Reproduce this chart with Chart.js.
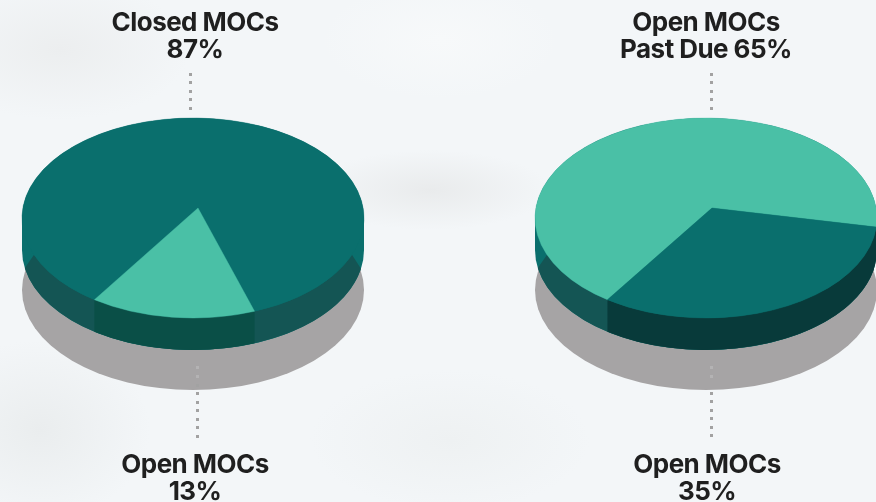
<!DOCTYPE html>
<html><head><meta charset="utf-8">
<script src="https://cdn.jsdelivr.net/npm/chart.js@4"></script>
<style>
html,body{margin:0;padding:0;width:876px;height:502px;overflow:hidden}
body{position:relative;background-color:#f3f6f8;background-image:
 radial-gradient(ellipse 130px 70px at 60px 50px,#eceeef 0,rgba(236,238,239,0) 100%),
 radial-gradient(ellipse 120px 40px at 430px 190px,#e9ebec 0,rgba(233,235,236,0) 100%),
 radial-gradient(ellipse 110px 90px at 40px 430px,#eaedee 0,rgba(234,237,238,0) 100%),
 radial-gradient(ellipse 140px 70px at 450px 440px,#eef1f2 0,rgba(238,241,242,0) 100%),
 radial-gradient(ellipse 120px 60px at 440px 40px,#f7f9fa 0,rgba(247,249,250,0) 100%)}
canvas{position:absolute;top:0}
.lab{position:absolute;width:320px;text-align:center;font:700 26px/26.5px Inter,sans-serif;color:#1f1f1f;letter-spacing:-0.55px;white-space:nowrap}
.dots{position:absolute;width:3px;background-image:repeating-linear-gradient(to bottom,#a2a2a2 0,#a2a2a2 3px,transparent 3px,transparent 8.5px)}
.dots.soft{background-image:repeating-linear-gradient(to bottom,#b4b3b4 0,#b4b3b4 3px,transparent 3px,transparent 8.5px)}
</style></head>
<body>
<canvas id="pieA" width="438" height="502" style="left:0;width:438px;height:502px"></canvas>
<canvas id="pieB" width="450" height="502" style="left:438px;width:450px;height:502px"></canvas>

<div class="dots" style="left:189px;top:73px;height:38px"></div>
<div class="dots soft" style="left:196px;top:366px;height:17px"></div>
<div class="dots" style="left:196px;top:383.5px;height:55px"></div>
<div class="dots" style="left:710px;top:73px;height:38px"></div>
<div class="dots soft" style="left:710px;top:366px;height:17px"></div>
<div class="dots" style="left:710px;top:392px;height:50px"></div>

<div class="lab" style="left:35px;top:9px">Closed MOCs<br>87%</div>
<div class="lab" style="left:546px;top:9px">Open MOCs<br>Past Due 65%</div>
<div class="lab" style="left:35px;top:451px">Open MOCs<br>13%</div>
<div class="lab" style="left:547px;top:451px">Open MOCs<br>35%</div>

<script>
const categoriesA = ['Closed MOCs', 'Open MOCs'];
const valuesA = [87, 13];
const categoriesB = ['Open MOCs Past Due', 'Open MOCs'];
const valuesB = [65, 35];

const TEAL = '#0a6f6d', MINT = '#4ac0a6', SHADOW = '#a6a4a5', BAND = '#145554';
const D = Math.PI / 180;

// Draws the library's arcs as a tilted, extruded disc.
const disc3d = {
  id: 'disc3d',
  beforeDatasetsDraw(chart) {
    const o = chart.options.plugins.disc3d;
    const arcs = chart.getDatasetMeta(0).data;
    const ctx = chart.ctx;
    const cx = arcs[0].x, cy = arcs[0].y, rx = arcs[0].outerRadius, ry = rx * o.tilt;
    const ax = cx + o.apexDx, ay = cy + o.apexDy;
    const warp = t => t + o.warp * Math.sin(t - o.warpAt * D);
    const full = (dy, c) => { ctx.beginPath(); ctx.ellipse(cx, cy + dy, rx, ry, 0, 0, 2 * Math.PI); ctx.fillStyle = c; ctx.fill(); };
    ctx.save();
    full(o.shadow, SHADOW);
    // side wall
    ctx.beginPath();
    ctx.ellipse(cx, cy, rx, ry, 0, Math.PI, 0, false);
    ctx.ellipse(cx, cy + o.depth, rx, ry, 0, 0, Math.PI, false);
    ctx.closePath(); ctx.fillStyle = o.wall; ctx.fill();
    // shaded band of the wall
    ctx.beginPath();
    ctx.ellipse(cx, cy, rx, ry, 0, 21.6 * D, 158.4 * D, false);
    ctx.ellipse(cx, cy + o.depth, rx, ry, 0, 169.6 * D, 10.8 * D, true);
    ctx.closePath(); ctx.fillStyle = BAND; ctx.fill();
    // wall under each marked slice
    arcs.forEach((a, i) => {
      const c = o.wallColors[i]; if (!c) return;
      const s = warp(a.startAngle), e = warp(a.endAngle);
      ctx.beginPath();
      ctx.ellipse(cx, cy, rx, ry, 0, s, e, false);
      ctx.ellipse(cx, cy + o.depth, rx, ry, 0, e, s, true);
      ctx.closePath(); ctx.fillStyle = c; ctx.fill();
    });
    // top faces
    arcs.forEach((a, i) => {
      ctx.beginPath();
      ctx.moveTo(ax, ay);
      ctx.ellipse(cx, cy, rx, ry, 0, warp(a.startAngle), warp(a.endAngle), false);
      ctx.closePath();
      ctx.fillStyle = a.options.backgroundColor; ctx.fill();
      ctx.strokeStyle = a.options.backgroundColor; ctx.lineWidth = 0.4; ctx.stroke();
    });
    ctx.restore();
    return false;
  }
};

function pie(id, labels, data, colors, rotation, padding, view) {
  return new Chart(document.getElementById(id), {
    type: 'pie',
    data: { labels, datasets: [{ data, backgroundColor: colors, borderWidth: 0 }] },
    options: {
      responsive: false, animation: false, rotation,
      layout: { padding },
      plugins: { legend: { display: false }, tooltip: { enabled: false }, disc3d: view }
    },
    plugins: [disc3d]
  });
}

const shared = { tilt: 100 / 171, depth: 32, shadow: 72, wall: TEAL, apexDy: -10 };
pie('pieA', categoriesA, valuesA, [TEAL, MINT], 210.45,
  { left: 22, right: 74, top: 47, bottom: 113 },
  { ...shared, apexDx: 5, warp: 0.209, warpAt: 97.05, wallColors: [null, '#0a4f47'] });
pie('pieB', categoriesB, valuesB, [MINT, TEAL], 218.2,
  { left: 97, right: 11, top: 47, bottom: 113 },
  { ...shared, apexDx: 6, warp: -0.059, warpAt: 65.2, wallColors: [null, '#083a3a'] });
</script>
</body></html>
